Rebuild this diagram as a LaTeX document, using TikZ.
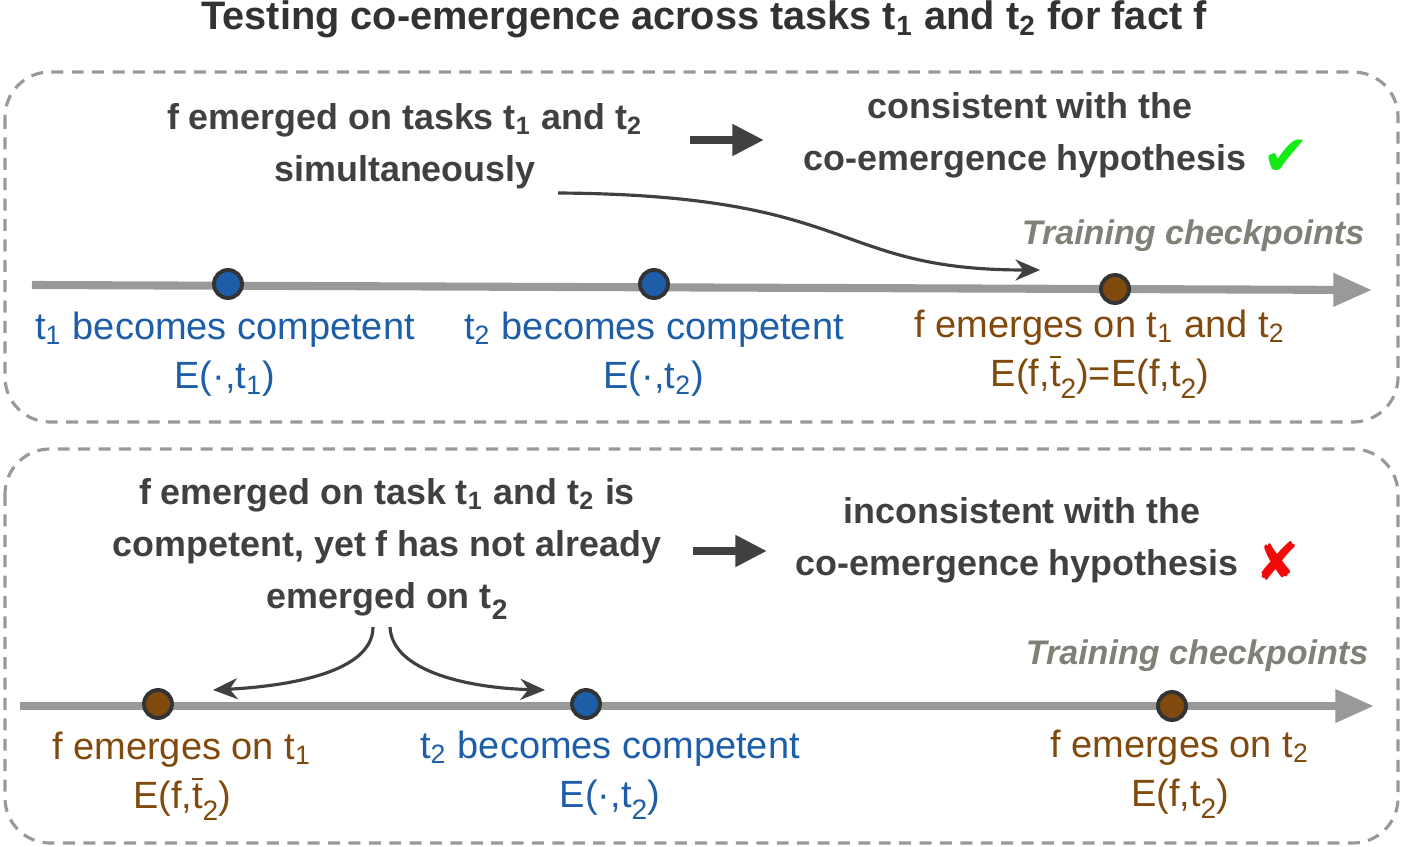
\documentclass[tikz,border=0pt]{standalone}
\usepackage{fontspec}
\setmainfont{Liberation Sans}
\newfontfamily\symbfont{DejaVu Sans}
\usetikzlibrary{arrows.meta}
\definecolor{cnoir}{RGB}{64,64,64}
\definecolor{ctitre}{RGB}{50,50,50}
\definecolor{cbord}{RGB}{51,51,51}
\definecolor{cbleu}{RGB}{30,94,168}
\definecolor{cbrun}{RGB}{128,74,14}
\definecolor{cgris}{RGB}{153,153,153}
\definecolor{cetiq}{RGB}{128,128,120}
\definecolor{cvert}{RGB}{20,235,20}
\definecolor{crouge}{RGB}{240,10,10}
\newcommand{\indice}[1]{\textsubscript{#1}}
\newcommand{\bas}[1]{\raisebox{-0.6ex}{\footnotesize #1}}
\newcommand{\tbar}{$\overline{\mbox{t}}$}

\begin{document}
\begin{tikzpicture}[x=0.01cm, y=-0.01cm, >=Stealth,
  cadre/.style={draw=cgris, line width=0.9pt, dash pattern=on 3.4pt off 2.4pt, rounded corners=0.45cm},
  axe/.style={draw=cgris, line width=2.3pt, -{Triangle[length=11pt,width=9pt]}},
  point/.style={circle, draw=cbord, line width=1.1pt, minimum size=0.28cm, inner sep=0pt},
  texte/.style={text=cnoir, font=\fontsize{10.2}{14.8}\selectfont\bfseries, align=center},
  lbleu/.style={text=cbleu, font=\fontsize{10.8}{14}\selectfont, align=center},
  lbrun/.style={text=cbrun, font=\fontsize{10.8}{14}\selectfont, align=center},
  etiq/.style={text=cetiq, font=\fontsize{9.7}{12}\selectfont\bfseries\itshape},
  grosse/.style={draw=cnoir, line width=2.3pt, -{Triangle[length=9pt,width=8.5pt]}},
  lien/.style={draw=cnoir, line width=0.9pt, -{Stealth[length=7pt,width=6pt]}}]
\useasboundingbox (0,0) rectangle (1404,846);
\node[text=ctitre, font=\fontsize{11.3}{12}\selectfont\bfseries] (titre) at (704,19)
  {Testing co-emergence across tasks t\indice{1} and t\indice{2} for fact f};

% panneau du haut
\draw[cadre] (5,72) rectangle (1398,422);
\node[texte] (cause1) at (405,146) {f emerged on tasks t\indice{1} and t\indice{2}\\simultaneously};
\node[texte] (concl1) at (1030,135) {consistent with the\\co-emergence hypothesis \hspace{1.2em}};
\node[text=cvert, font=\symbfont\fontsize{16}{16}\selectfont] (vu) at (1286,158) {✔};
\coordinate (g1) at (690,140);
\coordinate (h1) at (764,140);
\draw[grosse] (g1) -- (h1);
\coordinate (d1) at (32,285);
\coordinate (f1) at (1372,290);
\draw[axe] (d1) -- (f1);
\node[etiq] (ck1) at (1193,236) {Training checkpoints};
\node[point, fill=cbleu] (a1) at (228,284) {};
\node[point, fill=cbleu] (b1) at (654,284) {};
\node[point, fill=cbrun] (c1) at (1115,289) {};
\node[lbleu] (la1) at (225,354) {t\indice{1} becomes competent\\E(·,t\indice{1})};
\node[lbleu] (lb1) at (654,354) {t\indice{2} becomes competent\\E(·,t\indice{2})};
\node[lbrun] (lc1) at (1100,354) {f emerges on t\indice{1} and t\indice{2}\\E(f,\tbar\bas{2})=E(f,t\bas{2})};
\coordinate (s1) at (558,193);
\coordinate (e1) at (1040,270);
\draw[lien] (s1) .. controls (860,195) and (830,270) .. (e1);

% panneau du bas
\draw[cadre] (5,449) rectangle (1398,843);
\node[texte] (cause2) at (387,549) {f emerged on task t\indice{1} and t\indice{2} is\\competent, yet f has not already\\emerged on t\bas{2}};
\node[texte] (concl2) at (1022,540) {inconsistent with the\\co-emergence hypothesis \hspace{1.2em}};
\node[text=crouge, font=\symbfont\fontsize{15}{15}\selectfont] (croix) at (1278,561) {✘};
\coordinate (g2) at (693,551);
\coordinate (h2) at (767,551);
\draw[grosse] (g2) -- (h2);
\coordinate (d2) at (20,706);
\coordinate (f2) at (1374,706);
\draw[axe] (d2) -- (f2);
\node[etiq] (ck2) at (1197,656) {Training checkpoints};
\node[point, fill=cbrun] (a2) at (158,704) {};
\node[point, fill=cbleu] (b2) at (586,704) {};
\node[point, fill=cbrun] (c2) at (1172,706) {};
\node[lbrun] (la2) at (182,776) {f emerges on t\indice{1}\\E(f,\tbar\bas{2})};
\node[lbleu] (lb2) at (610,775) {t\indice{2} becomes competent\\E(·,t\bas{2})};
\node[lbrun] (lc2) at (1180,774) {f emerges on t\indice{2}\\E(f,t\bas{2})};
\coordinate (s2) at (373,627);
\coordinate (s3) at (390,627);
\coordinate (e2) at (213,690);
\coordinate (e3) at (545,690);
\draw[lien] (s2) .. controls (373,672) and (290,686) .. (e2);
\draw[lien] (s3) .. controls (392,672) and (470,688) .. (e3);
\end{tikzpicture}
\end{document}
